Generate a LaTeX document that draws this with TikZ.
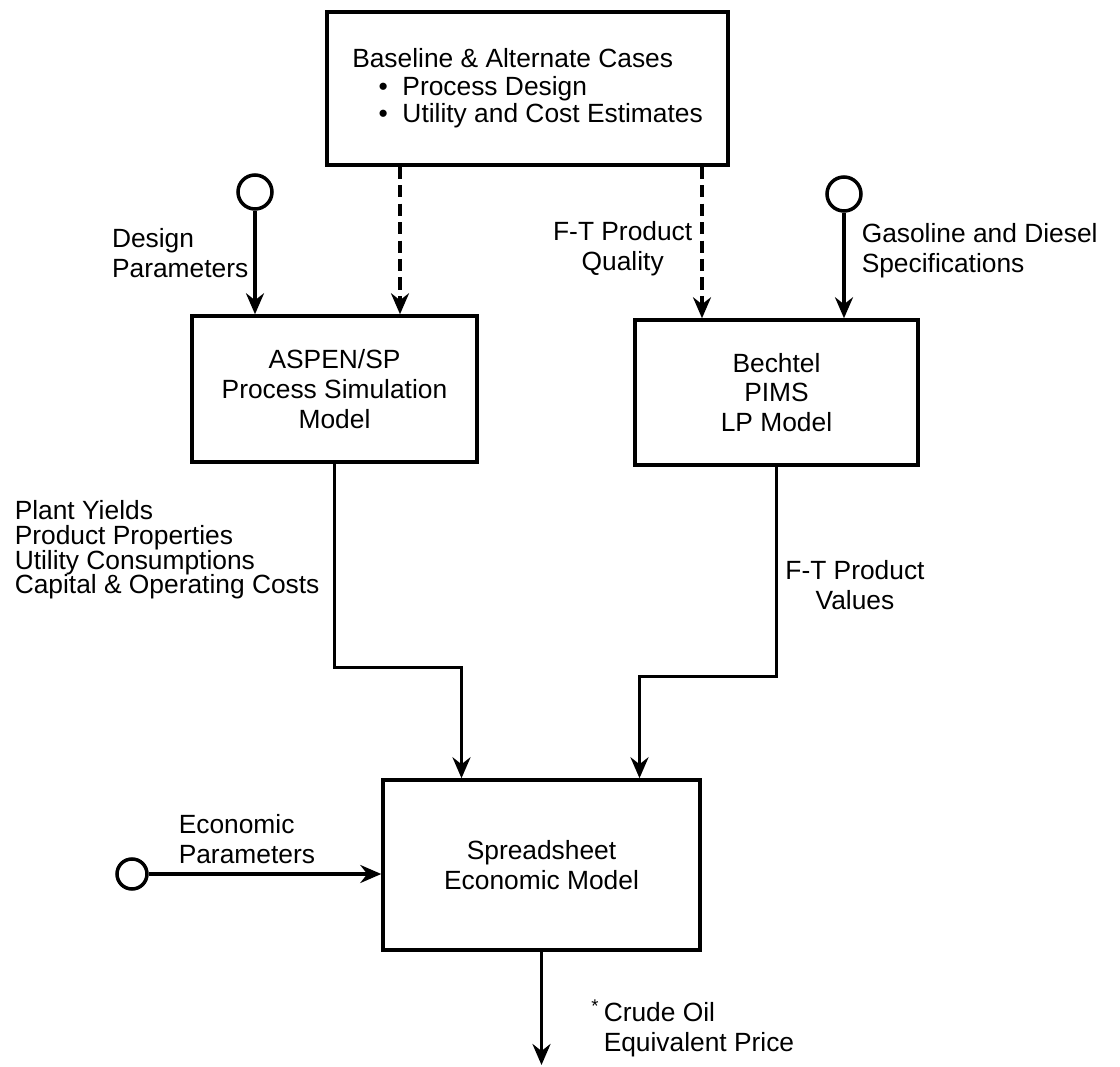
\documentclass[tikz,border=0pt]{standalone}
\usepackage{fontspec}
\setmainfont{Liberation Sans}
\usetikzlibrary{arrows.meta,calc}

\begin{document}
\begin{tikzpicture}[->, >={Stealth[length=4.2mm,width=3.6mm,inset=1.4mm]}, x=0.02cm, y=-0.02cm, line width=2pt,
    every node/.style={font=\fontsize{15}{17}\selectfont, inner sep=0pt},
    box/.style={draw, rectangle, align=center},
    src/.style={circle, draw, minimum size=0.68cm},
    dashed/.style={dash pattern=on 7pt off 3.5pt}]
    \useasboundingbox (0,0) rectangle (1120,1067);
    % Nodes
    \node[box, align=left, minimum width=8.02cm, minimum height=3.06cm, font=\fontsize{15}{15.6}\selectfont] (base) at (527.5,88.5) {Baseline \& Alternate Cases\\\quad\textbullet\ \ Process Design\\\quad\textbullet\ \ Utility and Cost Estimates};
    \node[box, minimum width=5.7cm, minimum height=2.92cm] (aspen) at (334.5,389) {ASPEN/SP\\Process Simulation\\Model};
    \node[box, minimum width=5.66cm, minimum height=2.9cm] (pims) at (776.5,392.5) {Bechtel\\PIMS\\LP Model};
    \node[box, minimum width=6.34cm, minimum height=3.4cm] (sheet) at (541.5,865) {Spreadsheet\\Economic Model};
    \node[src] (c1) at (255,192) {};
    \node[src] (c2) at (844,194) {};
    \node[src, minimum size=0.6cm] (c3) at (132,874) {};
    \coordinate (q1) at (400,0);
    \coordinate (q2) at (702,0);
    \coordinate (out) at (541.5,1065);

    % Labels
    \node[anchor=east, align=left] (dp) at (250,253) {Design\\Parameters};
    \node[anchor=east, align=center] (fq) at (694,249) {F-T Product\\Quality};
    \node[anchor=west, align=left] (gs) at (860,251) {Gasoline and Diesel\\Specifications};
    \node[anchor=west, align=left, font=\fontsize{15}{14}\selectfont] (yl) at (13,550) {Plant Yields\\Product Properties\\Utility Consumptions\\Capital \& Operating Costs};
    \node[align=center] (fv) at (855,585) {F-T Product\\Values};
    \node[anchor=west, align=left] (ep) at (177,839) {Economic\\Parameters};
    \node[anchor=west, align=left] (cp) at (602,1028) {\llap{\textsuperscript{*}\,}Crude Oil\\Equivalent Price};

    % Edges
    \draw (c1) -- (c1 |- aspen.north);
    \draw[dashed] (base.south -| q1) -- (aspen.north -| q1);
    \draw[dashed] (base.south -| q2) -- (pims.north -| q2);
    \draw (c2) -- (c2 |- pims.north);
    \draw (aspen.south) -- ++(0,204) -| ($(sheet.north)+(-80,0)$);
    \draw (pims.south) -- ++(0,210) -| ($(sheet.north)+(98,0)$);
    \draw (c3) -- (c3 -| sheet.west);
    \draw (sheet.south) -- (out);
\end{tikzpicture}
\end{document}
